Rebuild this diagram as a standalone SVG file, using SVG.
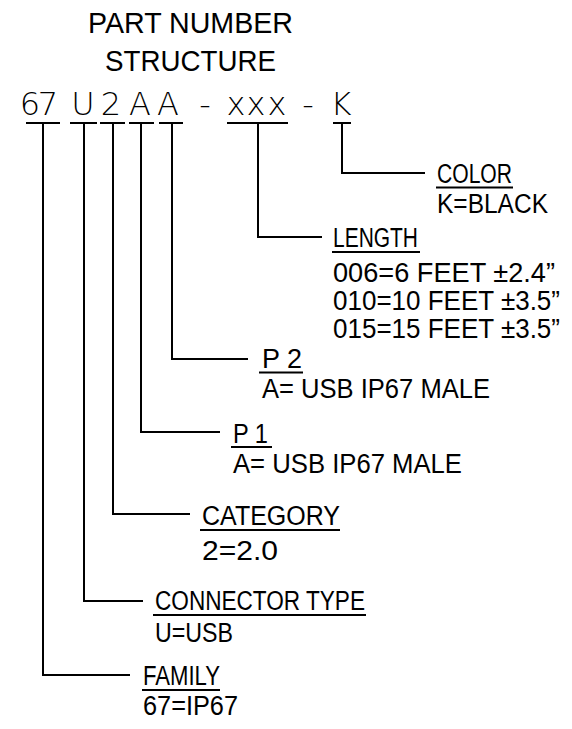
<svg xmlns="http://www.w3.org/2000/svg" width="572" height="729" viewBox="0 0 572 729">
<style>
.title{font-family:"Liberation Sans",Arial,sans-serif;font-size:29px;fill:#000;text-anchor:middle}
.pn{font-family:"DejaVu Sans",sans-serif;font-weight:200;font-size:32px;fill:#000;text-anchor:middle}
.lbl{font-family:"Liberation Sans",Arial,sans-serif;font-size:27px;fill:#000}
.ul{stroke:#000;stroke-width:2;fill:none}
.wire{stroke:#000;stroke-width:2;fill:none}
</style>
<rect width="572" height="729" fill="#fff"/>
<g id="title">
<text class="title" x="190.5" y="33" textLength="205" lengthAdjust="spacingAndGlyphs">PART NUMBER</text>
<text class="title" x="190.5" y="71" textLength="171" lengthAdjust="spacingAndGlyphs">STRUCTURE</text>
</g>
<g id="part-number">
<text class="pn" x="30 48 83 111 140 168 205 236 256 277 308 341" y="115">67U2AA-xxx-K</text>
</g>
<g id="connectors">
<path class="wire" d="M26,123H60M70,123H97M100,123H125M129,123H154M159,123H183M227,123H288M333,123H351"/>
<path class="wire" d="M43,123V675H130"/>
<path class="wire" d="M84,123V601H143"/>
<path class="wire" d="M113,123V514H190"/>
<path class="wire" d="M141,123V432H220"/>
<path class="wire" d="M172,123V359H248"/>
<path class="wire" d="M258,123V237H322"/>
<path class="wire" d="M342,123V173H425"/>
</g>
<g id="color">
<text class="lbl" x="437" y="183" textLength="75" lengthAdjust="spacingAndGlyphs">COLOR</text>
<line class="ul" x1="436" y1="187.5" x2="513" y2="187.5"/>
<text class="lbl" x="437" y="213" textLength="111" lengthAdjust="spacingAndGlyphs">K=BLACK</text>
</g>
<g id="length">
<text class="lbl" x="333" y="247" textLength="85" lengthAdjust="spacingAndGlyphs">LENGTH</text>
<line class="ul" x1="332" y1="252" x2="420" y2="252"/>
<text class="lbl" x="333" y="282" textLength="222" lengthAdjust="spacingAndGlyphs">006=6 FEET ±2.4”</text>
<text class="lbl" x="333" y="310" textLength="227" lengthAdjust="spacingAndGlyphs">010=10 FEET ±3.5”</text>
<text class="lbl" x="333" y="338" textLength="227" lengthAdjust="spacingAndGlyphs">015=15 FEET ±3.5”</text>
</g>
<g id="p2">
<text class="lbl" x="262" y="368" textLength="40" lengthAdjust="spacingAndGlyphs">P 2</text>
<line class="ul" x1="259" y1="372.5" x2="303" y2="372.5"/>
<text class="lbl" x="262" y="398" textLength="228" lengthAdjust="spacingAndGlyphs">A= USB IP67 MALE</text>
</g>
<g id="p1">
<text class="lbl" x="233" y="443" textLength="35" lengthAdjust="spacingAndGlyphs">P 1</text>
<line class="ul" x1="231" y1="447" x2="272" y2="447"/>
<text class="lbl" x="233" y="473" textLength="229" lengthAdjust="spacingAndGlyphs">A= USB IP67 MALE</text>
</g>
<g id="category">
<text class="lbl" x="202" y="525" textLength="138" lengthAdjust="spacingAndGlyphs">CATEGORY</text>
<line class="ul" x1="200" y1="530" x2="340" y2="530"/>
<text class="lbl" x="202" y="560" textLength="76" lengthAdjust="spacingAndGlyphs">2=2.0</text>
</g>
<g id="connector-type">
<text class="lbl" x="155" y="610" textLength="210" lengthAdjust="spacingAndGlyphs">CONNECTOR TYPE</text>
<line class="ul" x1="153" y1="615" x2="366" y2="615"/>
<text class="lbl" x="155" y="642" textLength="78" lengthAdjust="spacingAndGlyphs">U=USB</text>
</g>
<g id="family">
<text class="lbl" x="143" y="685" textLength="77" lengthAdjust="spacingAndGlyphs">FAMILY</text>
<line class="ul" x1="142" y1="690" x2="220" y2="690"/>
<text class="lbl" x="143" y="715" textLength="95" lengthAdjust="spacingAndGlyphs">67=IP67</text>
</g>
</svg>
